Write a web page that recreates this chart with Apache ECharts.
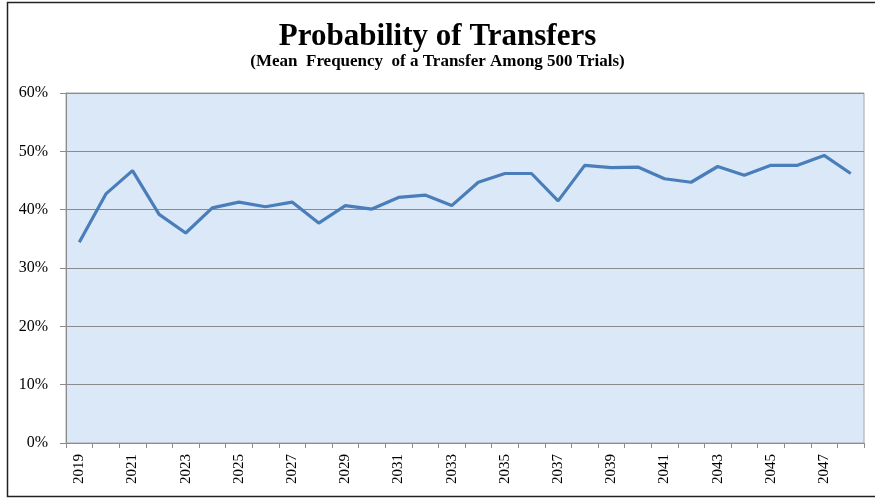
<!DOCTYPE html>
<html>
<head>
<meta charset="utf-8">
<script src="https://cdn.jsdelivr.net/npm/echarts@6/dist/echarts.min.js"></script>
<style>
html,body{margin:0;padding:0;background:#fff;}
#chart{width:875px;height:500px;}
</style>
</head>
<body>
<div id="chart"></div>
<script>
const years = ['2019','2020','2021','2022','2023','2024','2025','2026','2027','2028','2029','2030','2031','2032','2033','2034','2035','2036','2037','2038','2039','2040','2041','2042','2043','2044','2045','2046','2047','2048'];
const probability = [34.4,42.7,46.7,39.2,36.0,40.3,41.3,40.5,41.3,37.7,40.7,40.1,42.1,42.5,40.7,44.7,46.2,46.2,41.5,47.6,47.2,47.3,45.3,44.7,47.4,45.9,47.6,47.6,49.3,46.2];
const titleText = 'Probability of Transfers';
const subtitleText = '(Mean  Frequency  of a Transfer Among 500 Trials)';

const chart = echarts.init(document.getElementById('chart'), null, {renderer:'canvas'});
const serif = '"Liberation Serif", "Times New Roman", serif';
chart.setOption({
  animation:false,
  title:{
    text:titleText,
    subtext:subtitleText,
    left:'center',
    top:16,
    itemGap:1,
    textStyle:{fontFamily:serif,fontWeight:'bold',fontSize:31,color:'#000'},
    subtextStyle:{fontFamily:serif,fontWeight:'bold',fontSize:17,color:'#000'}
  },
  graphic:[{
    type:'rect',
    shape:{x:7.5,y:2.5,width:900,height:494},
    style:{fill:null,stroke:'#222',lineWidth:1.5},
    silent:true,
    z:-1
  }],
  grid:{
    left:66,right:11,top:93,bottom:57,
    show:true,
    backgroundColor:'#dbe8f7',
    borderColor:'#a6a6a6',
    borderWidth:1
  },
  xAxis:{
    type:'category',
    data:years,
    boundaryGap:true,
    axisLine:{show:true,lineStyle:{color:'#8c8c8c',width:1}},
    axisTick:{show:true,interval:0,length:5,lineStyle:{color:'#8c8c8c'}},
    axisLabel:{interval:1,rotate:90,margin:11,fontFamily:serif,fontSize:15,color:'#000'},
    splitLine:{show:false}
  },
  yAxis:{
    type:'value',
    min:0,max:60,interval:10,
    axisLine:{show:true,lineStyle:{color:'#8c8c8c',width:1}},
    axisTick:{show:true,length:6,lineStyle:{color:'#8c8c8c'}},
    axisLabel:{formatter:'{value}%',margin:18,fontFamily:serif,fontSize:16,color:'#000'},
    splitLine:{show:true,lineStyle:{color:'#8a8a8a',width:1}}
  },
  series:[{
    type:'line',
    data:probability,
    symbol:'none',
    lineStyle:{color:'#4a7ebb',width:3.2},
    itemStyle:{color:'#4a7ebb'}
  }]
});
</script>
</body>
</html>
